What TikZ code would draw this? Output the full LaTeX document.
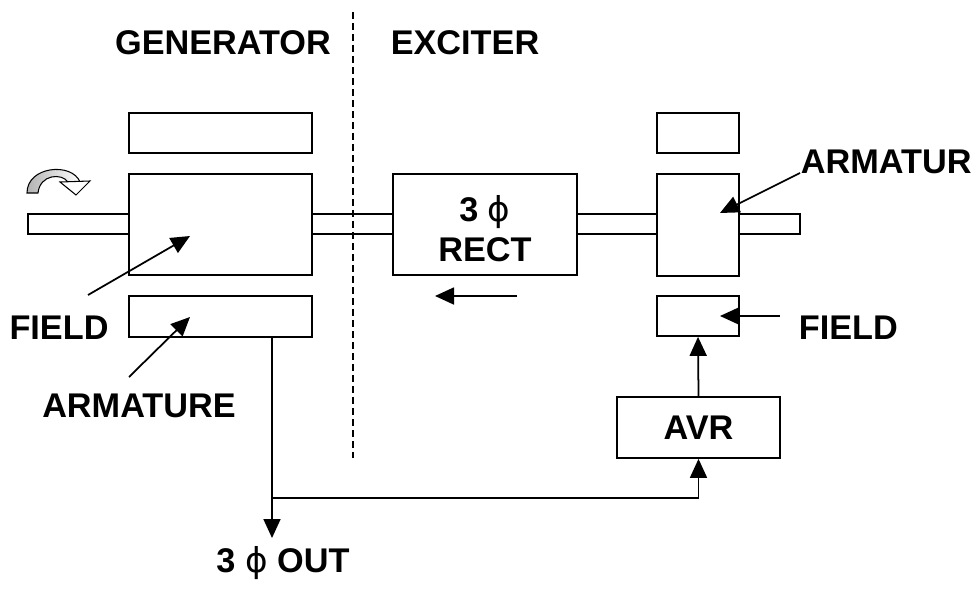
\documentclass[tikz,border=0pt]{standalone}
\usepackage{fontspec}
\setmainfont{Liberation Sans}
\newfontfamily\phifont{DejaVu Sans}
\usetikzlibrary{positioning,arrows.meta,fit}
\newcommand{\phisym}{{\phifont\mdseries ϕ}}

\begin{document}
\begin{tikzpicture}[
    x=0.02cm, y=-0.02cm,
    line width=1pt,
    font=\fontsize{19.5}{22.8}\selectfont\bfseries,
    box/.style={draw, fill=white, inner sep=0pt},
    shaftbar/.style={draw, fill=white, inner sep=0pt},
    lbl/.style={inner sep=0pt, align=center},
    arr/.style={-{Triangle[length=3.8mm, width=3.4mm]}},
    divider/.style={line width=0.8pt, dash pattern=on 1.4mm off 0.8mm},
  ]
  \useasboundingbox (0,0) rectangle (979,591);

  \node[lbl] (gen) at (223,43) {GENERATOR};
  \node[lbl] (exc) at (465,43) {EXCITER};

  \node[shaftbar, fit={(28,214) (800,234)}] (shaft) {};
  \node[box, fit={(129,113) (312,153)}] (gtop) {};
  \node[box, fit={(129,174) (312,275)}] (gmain) {};
  \node[box, fit={(129,296) (312,337)}] (gbot) {};
  \node[box, fit={(393,174) (577,275)}] (rect) {};
  \node[box, fit={(657,113) (739,153)}] (etop) {};
  \node[box, fit={(657,174) (739,276)}] (emain) {};
  \node[box, fit={(657,296) (739,336)}] (efield) {};
  \node[box, fit={(617,397) (780,458)}] (avr) {};
  \node[lbl] (rectlbl) at (485,229) {3 \phisym\\RECT};
  \node[lbl] (avrlbl) at (avr) {AVR};

  \coordinate (dtop) at (353,12);
  \coordinate (dbot) at (353,458);
  \draw[divider] (dtop) -- (dbot);

  % rotation mark
  \draw[line width=0.6pt, left color=black!30, right color=white]
    (27,193) .. controls (27,166) and (72,162) .. (80,182) -- (68,182)
    .. controls (62,173) and (40,174) .. (38,193) -- cycle;
  \filldraw[fill=white, line width=0.6pt] (60,182) -- (90,181) -- (76,195) -- cycle;

  \node[lbl] (fieldL) at (59,328) {FIELD};
  \node[lbl] (armL) at (139,406) {ARMATURE};
  \node[lbl, anchor=west] (armR) at (800,162) {ARMATUR};
  \node[lbl, anchor=west] (fieldR) at (798,328) {FIELD};
  \node[lbl] (outlbl) at (283,563) {3 \phisym{} OUT};

  \coordinate (f1) at (88,295);   \coordinate (f1t) at (190,236);
  \coordinate (a1) at (129,377);  \coordinate (a1t) at (190,317);
  \coordinate (a2) at (800,173);  \coordinate (a2t) at (720,213);
  \coordinate (f2) at (780,316);  \coordinate (f2t) at (720,316);
  \coordinate (cur) at (517,296); \coordinate (curt) at (435,296);
  \foreach \s/\t in {f1/f1t, a1/a1t, a2/a2t, f2/f2t, cur/curt}
    \draw[arr] (\s) -- (\t);

  \coordinate (out) at (272,538);
  \coordinate (tap) at (272,498);
  \draw[arr] (gbot.south -| out) -- (out);
  \draw[arr] (tap) -| (avr.south);
  \draw[arr] (avr.north) -- (efield.south);
\end{tikzpicture}
\end{document}
